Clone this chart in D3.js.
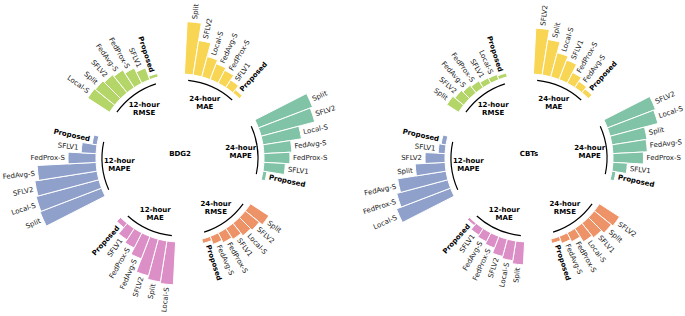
<!DOCTYPE html>
<html>
<head>
<meta charset="utf-8">
<script src="https://cdn.jsdelivr.net/npm/d3@7"></script>
<style>
  body { margin: 0; background: #fff; }
  text { font-family: "DejaVu Sans", sans-serif; }
</style>
</head>
<body>
<div id="chart"></div>
<script>
const width = 685;
const height = 316;

// metric groups, clockwise from the top
const groups = [["24-hour", "MAE"], ["24-hour", "MAPE"], ["24-hour", "RMSE"],
                ["12-hour", "MAE"], ["12-hour", "MAPE"], ["12-hour", "RMSE"]];
const colors = ["#f9d554", "#80c3a6", "#ee9367", "#dc8fc6", "#8fa1cb", "#b4d567"];

// BDG2 (sorted as drawn, clockwise)
const bdg2Methods = [
  ["Split", "SFLV2", "Local-S", "FedAvg-S", "FedProx-S", "SFLV1", "Proposed"],
  ["Split", "SFLV2", "Local-S", "FedAvg-S", "FedProx-S", "SFLV1", "Proposed"],
  ["Split", "SFLV2", "Local-S", "SFLV1", "FedProx-S", "FedAvg-S", "Proposed"],
  ["Local-S", "Split", "SFLV2", "FedAvg-S", "FedProx-S", "SFLV1", "Proposed"],
  ["Split", "Local-S", "SFLV2", "FedAvg-S", "FedProx-S", "SFLV1", "Proposed"],
  ["Local-S", "Split", "SFLV2", "FedAvg-S", "FedProx-S", "SFLV1", "Proposed"]
];
const bdg2Values = [
  [52.5, 35, 21, 17, 14.5, 9, 4],
  [58, 55.5, 39, 28, 26, 21.5, 4],
  [22, 18, 16, 13, 11, 8.5, 4.5],
  [43, 41.5, 38, 24, 17, 13.5, 5.5],
  [66, 65, 63, 59, 28, 15, 5],
  [26, 25, 23, 21, 17, 12.5, 3.5]
];

// CBTs
const cbtsMethods = [
  ["SFLV2", "Split", "Local-S", "SFLV1", "FedProx-S", "FedAvg-S", "Proposed"],
  ["SFLV2", "Local-S", "Split", "FedAvg-S", "FedProx-S", "SFLV1", "Proposed"],
  ["SFLV2", "Split", "SFLV1", "Local-S", "FedProx-S", "FedAvg-S", "Proposed"],
  ["Split", "Local-S", "SFLV2", "FedProx-S", "FedAvg-S", "SFLV1", "Proposed"],
  ["Local-S", "FedProx-S", "FedAvg-S", "Split", "SFLV2", "SFLV1", "Proposed"],
  ["Split", "SFLV2", "FedAvg-S", "FedProx-S", "SFLV1", "Local-S", "Proposed"]
];
const cbtsValues = [
  [46, 36, 25, 21, 12, 7.5, 5],
  [51.5, 49.5, 35.5, 34.5, 30.5, 14.5, 4],
  [24, 22, 18.5, 16, 10, 7.5, 4.5],
  [23, 20, 18, 12.5, 10, 8, 3],
  [58, 53, 49, 30, 20, 7, 5],
  [14, 11.5, 9.5, 8, 6, 5.5, 4]
];

const panels = [
  { title: "BDG2", methods: bdg2Methods, values: bdg2Values, cx: 180, cy: 158 },
  { title: "CBTs", methods: cbtsMethods, values: cbtsValues, cx: 529, cy: 158 }
];

const slotsPerGroup = 10; // 7 bars + 3 empty
const nSlots = groups.length * slotsPerGroup;

// angle of each slot (clockwise from north)
const x = d3.scaleBand()
  .domain(d3.range(nSlots))
  .range([Math.PI / 60, 2 * Math.PI + Math.PI / 60])
  .padding(0);

// radial scale, bars start off the centre
const y = d3.scaleLinear()
  .domain([0, 60])
  .range([84, 144]);

const svg = d3.select("#chart")
  .append("svg")
  .attr("width", width)
  .attr("height", height);

const arc = d3.arc()
  .innerRadius(y(0))
  .outerRadius(d => y(d.value))
  .startAngle(d => x(d.slot))
  .endAngle(d => x(d.slot) + x.bandwidth());

panels.forEach(p => {
  const g = svg.append("g")
    .attr("transform", "translate(" + p.cx + "," + p.cy + ")");

  // flatten into bars
  const bars = [];
  p.values.forEach((vals, gi) => {
    vals.forEach((v, i) => {
      bars.push({ group: gi, slot: gi * slotsPerGroup + i, value: v, name: p.methods[gi][i] });
    });
  });

  g.selectAll(".bar")
    .data(bars)
    .enter().append("path")
    .attr("class", "bar")
    .attr("d", arc)
    .attr("fill", d => colors[d.group])
    .attr("stroke", "#fff")
    .attr("stroke-width", 1);

  // bar labels
  g.selectAll(".lbl")
    .data(bars)
    .enter().append("text")
    .attr("class", "lbl")
    .each(function (d) {
      const a = x(d.slot) + x.bandwidth() / 2;
      const r = y(d.value) + 3;
      const deg = a * 180 / Math.PI;
      const px = r * Math.sin(a), py = -r * Math.cos(a);
      const right = deg < 180;
      d3.select(this)
        .attr("transform", "translate(" + px + "," + py + ") rotate(" + (right ? deg - 90 : deg - 270) + ")")
        .attr("text-anchor", right ? "start" : "end");
    })
    .attr("dy", "0.35em")
    .attr("font-size", 7)
    .attr("font-weight", d => d.name === "Proposed" ? "bold" : "normal")
    .attr("fill", d => d.name === "Proposed" ? "#000" : "#222")
    .text(d => d.name);

  // group arcs and names
  groups.forEach((gr, gi) => {
    const a0 = x(gi * slotsPerGroup) + x.bandwidth() / 2;
    const a1 = x(gi * slotsPerGroup + 6) + x.bandwidth() / 2;
    const path = d3.path();
    const r = y(-6);
    path.arc(0, 0, r, a0 - Math.PI / 2, a1 - Math.PI / 2);
    g.append("path")
      .attr("d", path.toString())
      .attr("fill", "none")
      .attr("stroke", "#000")
      .attr("stroke-width", 1.2);

    const am = (a0 + a1) / 2;
    const rl = 61;
    const t = g.append("text")
      .attr("x", rl * Math.sin(am))
      .attr("y", -rl * Math.cos(am))
      .attr("text-anchor", "middle")
      .attr("font-size", 7)
      .attr("font-weight", "bold");
    t.append("tspan")
      .attr("x", rl * Math.sin(am))
      .attr("dy", "-0.2em")
      .text(gr[0]);
    t.append("tspan")
      .attr("x", rl * Math.sin(am))
      .attr("dy", "1.15em")
      .text(gr[1]);
  });

  g.append("text")
    .attr("text-anchor", "middle")
    .attr("dy", "-0.35em")
    .attr("font-size", 7)
    .attr("font-weight", "bold")
    .text(p.title);
});
</script>
</body>
</html>
